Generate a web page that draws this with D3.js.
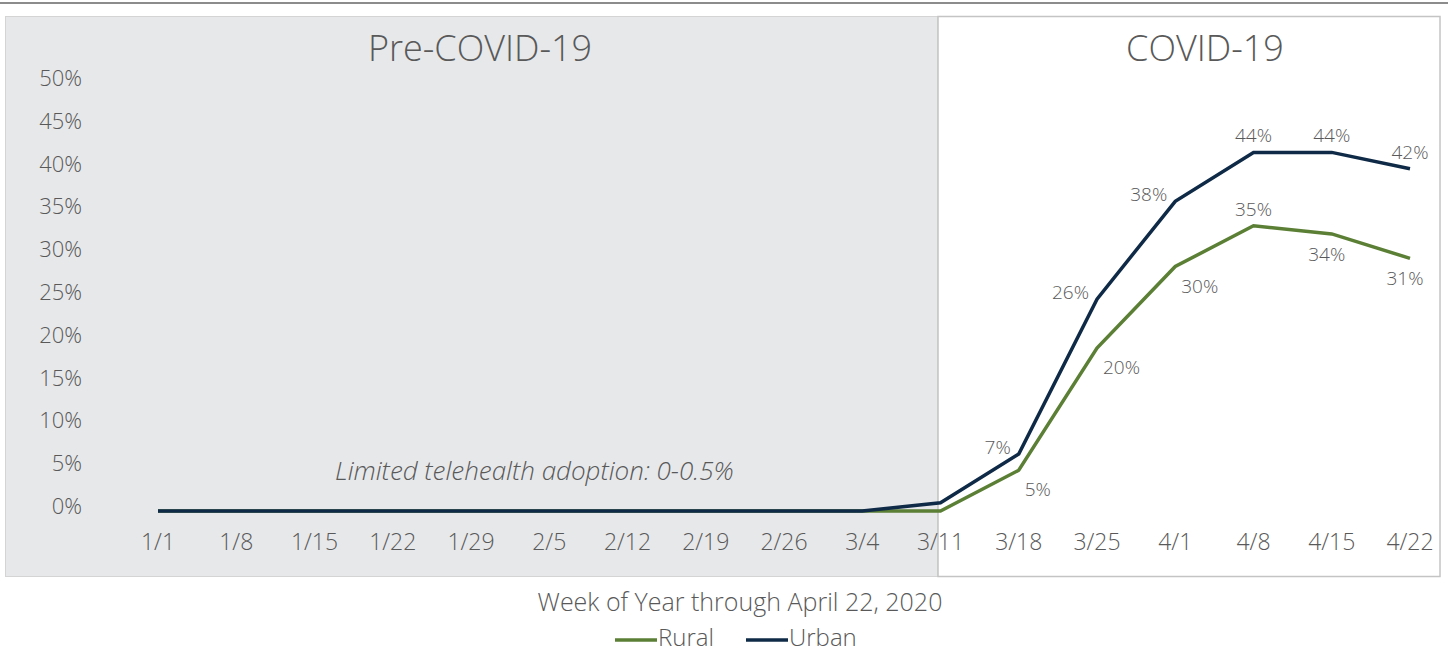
<!DOCTYPE html>
<html>
<head>
<meta charset="utf-8">
<script src="https://cdnjs.cloudflare.com/ajax/libs/d3/7.8.5/d3.min.js"></script>
<style>
  body { margin: 0; background: #fff; }
  text { font-family: "Open Sans", "Noto Sans", sans-serif; fill: #595959; font-weight: 300; }
</style>
</head>
<body>
<svg id="chart" width="1448" height="653"></svg>
<script>
// weekly data
var weeks = ["1/1","1/8","1/15","1/22","1/29","2/5","2/12","2/19","2/26","3/4","3/11","3/18","3/25","4/1","4/8","4/15","4/22"]
var rural = [0,0,0,0,0,0,0,0,0,0,0,5,20,30,35,34,31]
var urban = [0,0,0,0,0,0,0,0,0,0,1,7,26,38,44,44,42]
var yTicks = [0,5,10,15,20,25,30,35,40,45,50]
// where each value label sits next to its point
var ruralLabels = [[11,"right"],[12,"right"],[13,"right"],[14,"above"],[15,"below"],[16,"below"]]
var urbanLabels = [[11,"left"],[12,"left"],[13,"left"],[14,"above"],[15,"above"],[16,"above"]]

var svg = d3.select("#chart")
var ruralColor = "#5b7f35", urbanColor = "#0f2a47"

var x = d3.scalePoint().domain(weeks).range([158, 1410])
var y = d3.scaleLinear().domain([0, 50]).range([511, 103.5])
// tick labels sit on their own spacing in the original
var yLab = d3.scaleLinear().domain([0, 50]).range([506, 78])

// top rule
svg.append("rect").attr("x", 0).attr("y", 2).attr("width", 1448).attr("height", 2).attr("fill", "#8c8c8c")

// panels
var split = x("3/11") - 2.5
svg.append("rect").attr("x", 5.5).attr("y", 16.5).attr("width", split - 5.5).attr("height", 560)
  .attr("fill", "#e7e8ea").attr("stroke", "#d4d4d4")
svg.append("rect").attr("x", split).attr("y", 16.5).attr("width", 1440 - split).attr("height", 560)
  .attr("fill", "#ffffff").attr("stroke", "#c4c4c4").attr("stroke-width", 1.5)

svg.append("text").attr("x", 480).attr("y", 61).attr("text-anchor", "middle")
  .attr("font-size", "36px").text("Pre-COVID-19")
svg.append("text").attr("x", 1205).attr("y", 61).attr("text-anchor", "middle")
  .attr("font-size", "36px").text("COVID-19")

// y labels
svg.selectAll(".ylab").data(yTicks).enter().append("text")
  .attr("class", "ylab")
  .attr("x", 82).attr("y", function(d) { return yLab(d) + 8 })
  .attr("text-anchor", "end").attr("font-size", "22px")
  .text(function(d) { return d + "%" })

// x labels
svg.selectAll(".xlab").data(weeks).enter().append("text")
  .attr("class", "xlab")
  .attr("x", function(d) { return x(d) }).attr("y", 550)
  .attr("text-anchor", "middle").attr("font-size", "23px")
  .text(function(d) { return d })

svg.append("text").attr("x", 335).attr("y", 480)
  .attr("font-size", "26px").attr("font-style", "italic").attr("font-weight", 400)
  .text("Limited telehealth adoption: 0-0.5%")

var line = d3.line()
  .x(function(d, i) { return x(weeks[i]) })
  .y(function(d) { return y(d) })

svg.append("path").datum(rural).attr("d", line)
  .attr("fill", "none").attr("stroke", ruralColor).attr("stroke-width", 3.5)
svg.append("path").datum(urban).attr("d", line)
  .attr("fill", "none").attr("stroke", urbanColor).attr("stroke-width", 3.5)

function addLabels(labels, values) {
  svg.selectAll(null).data(labels).enter().append("text")
    .attr("font-size", "19px")
    .attr("text-anchor", function(d) {
      if (d[1] == "left") return "end"
      if (d[1] == "right") return "start"
      return "middle"
    })
    .attr("x", function(d) {
      var px = x(weeks[d[0]])
      if (d[1] == "left") return px - 8
      if (d[1] == "right") return px + 6
      if (d[1] == "below") return px - 5
      return px
    })
    .attr("y", function(d) {
      var py = y(values[d[0]])
      if (d[1] == "left") return py
      if (d[1] == "right") return py + 26
      if (d[1] == "below") return py + 27
      return py - 10
    })
    .text(function(d) { return values[d[0]] + "%" })
}
addLabels(urbanLabels, urban)
addLabels(ruralLabels, rural)

// axis title
svg.append("text").attr("x", 740).attr("y", 611).attr("text-anchor", "middle")
  .attr("font-size", "25px").text("Week of Year through April 22, 2020")

// legend
var legend = [["Rural", ruralColor, 615], ["Urban", urbanColor, 746]]
legend.forEach(function(l) {
  svg.append("line").attr("x1", l[2]).attr("x2", l[2] + 42).attr("y1", 640).attr("y2", 640)
    .attr("stroke", l[1]).attr("stroke-width", 3.5)
  svg.append("text").attr("x", l[2] + 43).attr("y", 646).attr("font-size", "24px").text(l[0])
})
</script>
</body>
</html>
